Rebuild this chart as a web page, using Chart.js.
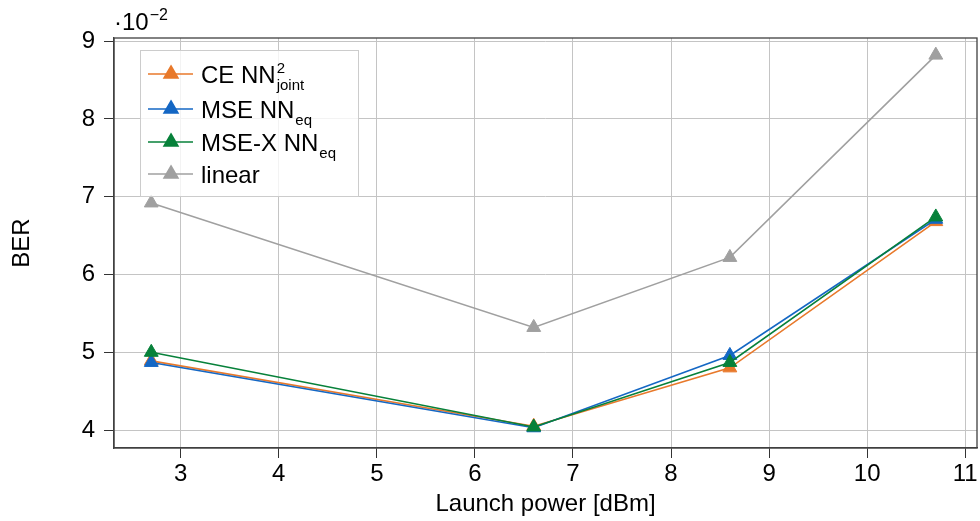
<!DOCTYPE html>
<html>
<head>
<meta charset="utf-8">
<script src="https://cdn.jsdelivr.net/npm/chart.js@4.4.0/dist/chart.umd.min.js"></script>
<style>
body { margin: 0; background: #fff; }
</style>
</head>
<body>
<canvas id="berChart" width="980" height="521"></canvas>
<script>
// ---------- data (BER given in units of 1e-2) ----------
const launchPower = [2.7, 6.6, 8.6, 10.7];
const berCE = [4.89, 4.05, 4.80, 6.68];
const berMSE = [4.87, 4.03, 4.96, 6.71];
const berMSEX = [5.00, 4.04, 4.87, 6.74];
const berLinear = [6.92, 5.32, 6.22, 8.82];
const xTicks = [3, 4, 5, 6, 7, 8, 9, 10, 11];
const yTicks = [4, 5, 6, 7, 8, 9];
// legend label: [main text, superscript, subscript]
const seriesNames = [
    ['CE NN', '2', 'joint'],
    ['MSE NN', '', 'eq'],
    ['MSE-X NN', '', 'eq'],
    ['linear', '', '']
];
const seriesColors = ['#e8792b', '#1467c4', '#07813a', '#a0a0a0'];

const fontFamily = "'Liberation Sans', Arial, Helvetica, sans-serif";

function toPoints(values) {
    return values.map((v, i) => ({ x: launchPower[i], y: v }));
}

function makeDataset(values, idx, order) {
    return {
        label: seriesNames[idx][0],
        data: toPoints(values),
        borderColor: seriesColors[idx],
        backgroundColor: seriesColors[idx],
        pointBackgroundColor: seriesColors[idx],
        pointBorderColor: seriesColors[idx],
        borderWidth: 1.6,
        pointStyle: 'triangle',
        pointRadius: 8,
        pointBorderWidth: 1,
        tension: 0,
        order: order
    };
}

// frame, legend with sub/superscripts and the 10^-2 multiplier
const decorations = {
    id: 'decorations',
    afterDatasetsDraw(chart) {
        const ctx = chart.ctx;
        const area = chart.chartArea;
        ctx.save();

        // box around plot
        ctx.strokeStyle = '#404040';
        ctx.lineWidth = 1.3;
        ctx.strokeRect(area.left, area.top, area.right - area.left, area.bottom - area.top);

        // multiplier
        ctx.fillStyle = '#000';
        ctx.textBaseline = 'alphabetic';
        ctx.textAlign = 'left';
        ctx.font = '24px ' + fontFamily;
        ctx.fillText('\u00b710', 114, 30);
        const w10 = ctx.measureText('\u00b710').width;
        ctx.font = '16px ' + fontFamily;
        ctx.fillText('\u22122', 114 + w10 + 1, 20);

        // legend
        const bx = 140, by = 50, bw = 218, bh = 146;
        ctx.fillStyle = 'rgba(255,255,255,0.8)';
        ctx.fillRect(bx, by, bw, bh);
        ctx.strokeStyle = '#cccccc';
        ctx.lineWidth = 1;
        ctx.strokeRect(bx + 0.5, by + 0.5, bw, bh);

        const rowY = [74, 109, 142, 174];
        chart.data.datasets.forEach((ds, i) => {
            const y = rowY[i];
            ctx.strokeStyle = ds.borderColor;
            ctx.lineWidth = ds.borderWidth;
            ctx.beginPath();
            ctx.moveTo(148, y);
            ctx.lineTo(193, y);
            ctx.stroke();
            ctx.fillStyle = ds.pointBackgroundColor;
            Chart.helpers.drawPoint(ctx, {
                pointStyle: 'triangle',
                radius: ds.pointRadius,
                borderWidth: ds.pointBorderWidth,
                rotation: 0
            }, 171, y);

            const parts = seriesNames[i];
            const base = y + 9;
            ctx.fillStyle = '#000';
            ctx.font = '24px ' + fontFamily;
            ctx.fillText(parts[0], 201, base);
            const tx = 201 + ctx.measureText(parts[0]).width + 1;
            ctx.font = '15px ' + fontFamily;
            if (parts[1]) ctx.fillText(parts[1], tx, base - 10);
            if (parts[2]) ctx.fillText(parts[2], tx, base + 7);
        });
        ctx.restore();
    }
};

const ctx = document.getElementById('berChart').getContext('2d');
const berChart = new Chart(ctx, {
    type: 'line',
    data: {
        datasets: [
            makeDataset(berCE, 0, 4),
            makeDataset(berMSE, 1, 3),
            makeDataset(berMSEX, 2, 2),
            makeDataset(berLinear, 3, 1)
        ]
    },
    options: {
        responsive: false,
        animation: false,
        devicePixelRatio: 1,
        layout: { autoPadding: false, padding: { top: 38, right: 3, left: 0, bottom: 0 } },
        plugins: {
            legend: { display: false },
            tooltip: { enabled: false }
        },
        scales: {
            x: {
                type: 'linear',
                min: 2.32,
                max: 11.12,
                afterBuildTicks: (s) => { s.ticks = xTicks.map(v => ({ value: v })); },
                afterFit: (s) => { s.height = 73; s.paddingRight = 0; },
                ticks: { font: { family: fontFamily, size: 24 }, color: '#000', padding: 2, maxRotation: 0 },
                grid: { color: '#c4c4c4', lineWidth: 1, tickColor: '#333', tickLength: 10 },
                border: { color: '#404040', width: 1.3 },
                title: {
                    display: true,
                    text: 'Launch power [dBm]',
                    font: { family: fontFamily, size: 24 },
                    color: '#000',
                    padding: { top: 0, bottom: 2 }
                }
            },
            y: {
                min: 3.77,
                max: 9.04,
                afterBuildTicks: (s) => { s.ticks = yTicks.map(v => ({ value: v })); },
                afterFit: (s) => { s.width = 114; },
                ticks: { font: { family: fontFamily, size: 24 }, color: '#000', padding: 9 },
                grid: { color: '#c4c4c4', lineWidth: 1, tickColor: '#333', tickLength: 10 },
                border: { color: '#404040', width: 1.3 },
                title: {
                    display: true,
                    text: 'BER',
                    font: { family: fontFamily, size: 24 },
                    color: '#000',
                    padding: { top: 8, bottom: 0 }
                }
            }
        }
    },
    plugins: [decorations]
});
</script>
</body>
</html>
